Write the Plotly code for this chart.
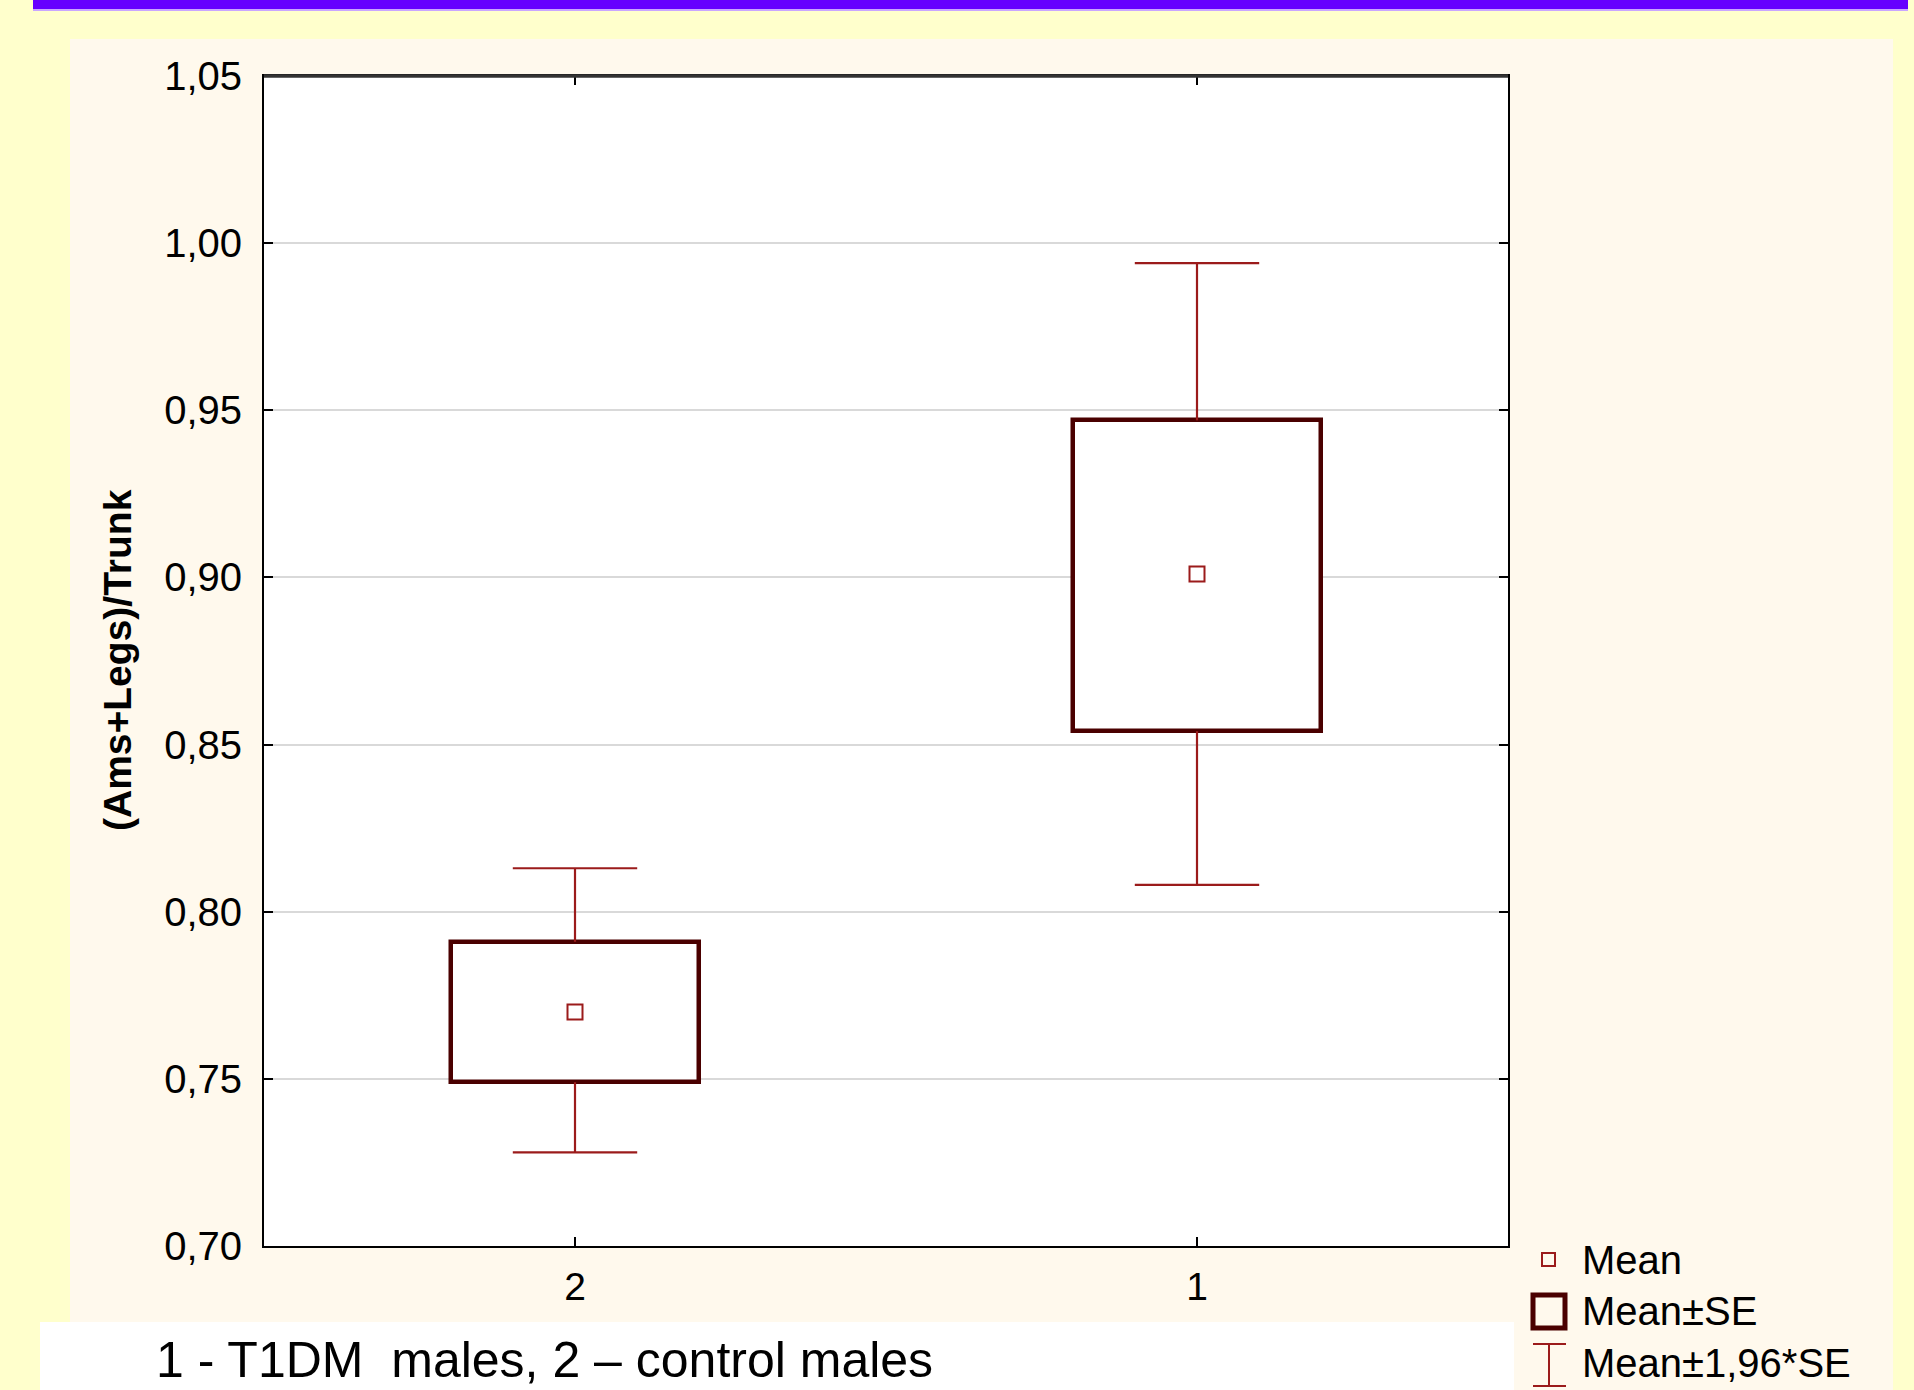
import plotly.graph_objects as go

# ---- data ----
groups = ["2", "1"]
means = [0.770, 0.901]
se_low = [0.749, 0.854]
se_high = [0.791, 0.947]
ci_low = [0.728, 0.808]
ci_high = [0.813, 0.994]
y_ticks = [0.70, 0.75, 0.80, 0.85, 0.90, 0.95, 1.00, 1.05]

# ---- layout geometry (pixels) ----
W, H = 1914, 1390
L, R, T, B = 264, 1508, 76, 1246
FONT = "Liberation Sans, Arial, sans-serif"

def xp(px):
    return (px - L) / (R - L)

def yp(py):
    return (B - py) / (B - T)

pos = list(range(len(groups)))
box_w = 0.4
cap_hw = 0.1
dark = "#4A0000"
red = "#9B1B1B"

fig = go.Figure()

# Mean +- SE boxes
fig.add_trace(go.Bar(
    x=pos,
    y=[h - l for h, l in zip(se_high, se_low)],
    base=se_low,
    width=box_w,
    marker=dict(color="white", line=dict(color=dark, width=4.5)),
    showlegend=False, hoverinfo="skip",
))

# Mean +- 1.96*SE whiskers with caps
wx, wy = [], []
for p, sl, sh, cl, ch in zip(pos, se_low, se_high, ci_low, ci_high):
    wx += [p, p, None, p - cap_hw, p + cap_hw, None, p, p, None, p - cap_hw, p + cap_hw, None]
    wy += [sh, ch, None, ch, ch, None, sl, cl, None, cl, cl, None]
fig.add_trace(go.Scatter(
    x=wx, y=wy, mode="lines",
    line=dict(color=red, width=2.2),
    showlegend=False, hoverinfo="skip",
))

# Means
fig.add_trace(go.Scatter(
    x=pos, y=means, mode="markers",
    marker=dict(symbol="square-open", size=15, color=red, line=dict(color=red, width=2)),
    showlegend=False,
))

shapes = []
# yellow margins around the cream panel
yellow = "#FFFFCC"
for x0, y0, x1, y1 in [(0, 0, 70, 1390), (1893, 0, 1914, 1390), (0, 0, 1914, 39)]:
    shapes.append(dict(type="rect", xref="paper", yref="paper",
                       x0=xp(x0), x1=xp(x1), y0=yp(y1), y1=yp(y0),
                       fillcolor=yellow, line=dict(width=0), layer="below"))
# purple header bar
shapes.append(dict(type="rect", xref="paper", yref="paper",
                   x0=xp(33), x1=xp(1908), y0=yp(11), y1=yp(0),
                   fillcolor="#C9A6FF", line=dict(width=0), layer="below"))
shapes.append(dict(type="rect", xref="paper", yref="paper",
                   x0=xp(33), x1=xp(1908), y0=yp(9), y1=yp(0),
                   fillcolor="#6600FF", line=dict(width=0), layer="below"))
# white caption box
shapes.append(dict(type="rect", xref="paper", yref="paper",
                   x0=xp(40), x1=xp(1514), y0=yp(1390), y1=yp(1322),
                   fillcolor="white", line=dict(width=0), layer="below"))
# slightly heavier top frame line
shapes.append(dict(type="line", xref="paper", yref="paper",
                   x0=0, x1=1, y0=1, y1=1, line=dict(color="#333333", width=3.5)))

# legend symbols (drawn by hand)
shapes.append(dict(type="rect", xref="paper", yref="paper",
                   x0=xp(1542), x1=xp(1555), y0=yp(1266), y1=yp(1253),
                   fillcolor="rgba(0,0,0,0)", line=dict(color=red, width=2)))
shapes.append(dict(type="rect", xref="paper", yref="paper",
                   x0=xp(1533), x1=xp(1565), y0=yp(1328), y1=yp(1295),
                   fillcolor="rgba(0,0,0,0)", line=dict(color=dark, width=5)))
for x0, y0, x1, y1 in [(1549, 1344, 1549, 1386), (1533, 1344, 1566, 1344), (1533, 1386, 1566, 1386)]:
    shapes.append(dict(type="line", xref="paper", yref="paper",
                       x0=xp(x0), x1=xp(x1), y0=yp(y0), y1=yp(y1),
                       line=dict(color=red, width=2)))

annotations = [
    dict(text="(Ams+Legs)/Trunk", xref="paper", yref="paper", x=xp(117), y=yp(660),
         textangle=-90, showarrow=False, xanchor="center", yanchor="middle",
         font=dict(family=FONT, size=39, color="black", weight="bold")),
    dict(text="1 - T1DM\u00a0 males, 2 \u2013 control males", xref="paper", yref="paper",
         x=xp(154), y=yp(1360), showarrow=False, xanchor="left", yanchor="middle",
         font=dict(family=FONT, size=50, color="black")),
]
for label, py in [("Mean", 1260), ("Mean\u00b1SE", 1311), ("Mean\u00b11,96*SE", 1363)]:
    annotations.append(dict(text=label, xref="paper", yref="paper", x=xp(1580), y=yp(py),
                            showarrow=False, xanchor="left", yanchor="middle",
                            font=dict(family=FONT, size=40, color="black")))

fig.update_layout(
    width=W, height=H,
    margin=dict(l=L, r=W - R, t=T, b=H - B, autoexpand=False),
    paper_bgcolor="#FFF9ED",
    plot_bgcolor="white",
    separators=",.",
    font=dict(family=FONT, color="black"),
    showlegend=False,
    shapes=shapes,
    annotations=annotations,
    bargap=0,
    xaxis=dict(
        range=[-0.5, 1.5], tickvals=pos, ticktext=groups,
        showgrid=False, zeroline=False,
        showline=True, linecolor="black", linewidth=2, mirror="ticks",
        ticks="inside", ticklen=9, tickwidth=2, tickcolor="black",
        tickfont=dict(size=39, family=FONT), ticklabelstandoff=5,
    ),
    yaxis=dict(
        range=[0.70, 1.05], tickvals=y_ticks, tickformat=".2f",
        showgrid=True, gridcolor="#D9D9D9", gridwidth=2, zeroline=False,
        showline=True, linecolor="black", linewidth=2, mirror="ticks",
        ticks="inside", ticklen=9, tickwidth=2, tickcolor="black",
        tickfont=dict(size=40, family=FONT), ticklabelstandoff=12,
    ),
)

fig.write_html(
    "out.html",
    config={"displayModeBar": False},
    post_script="document.body.style.margin='0';document.body.style.overflow='hidden';",
)
